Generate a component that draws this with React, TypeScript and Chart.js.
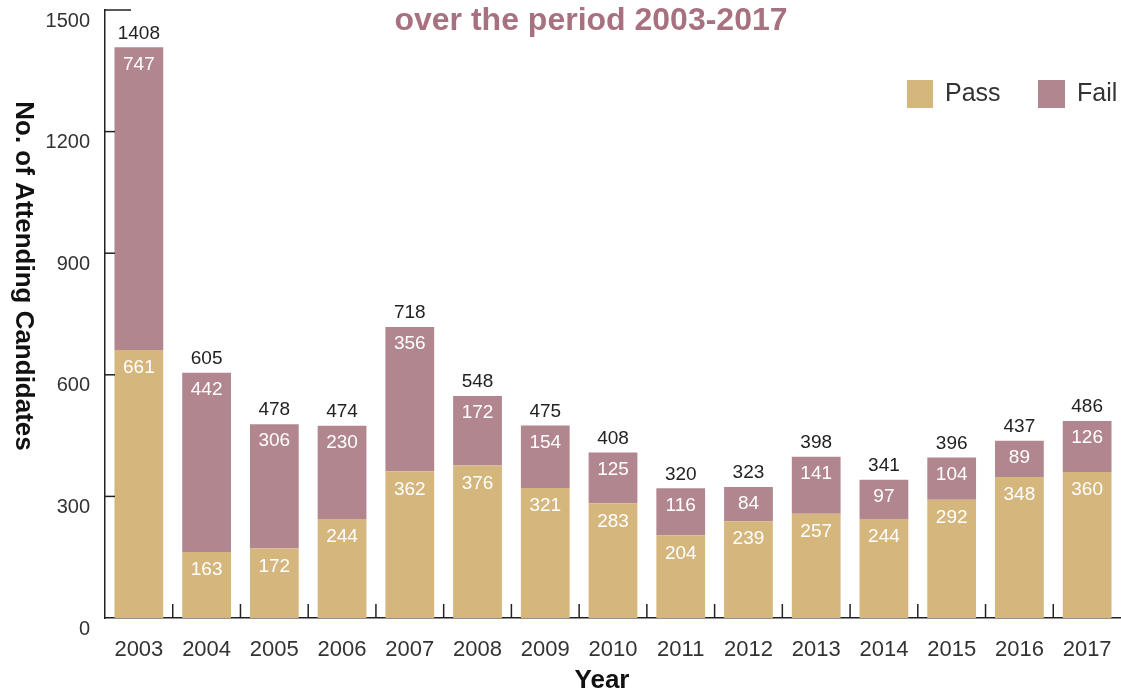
import React, { useEffect, useRef } from "react";
import Chart from "chart.js/auto";

const years = ["2003","2004","2005","2006","2007","2008","2009","2010","2011","2012","2013","2014","2015","2016","2017"];
const passValues = [661,163,172,244,362,376,321,283,204,239,257,244,292,348,360];
const failValues = [747,442,306,230,356,172,154,125,116,84,141,97,104,89,126];
const yTicks = [0,300,600,900,1200,1500];

const PASS_COLOR = "#D5B67C";
const FAIL_COLOR = "#B2868F";
const FONT = "'Liberation Sans', Arial, Helvetica, sans-serif";

const decorPlugin = {
  id: "decor",
  afterDraw(chart: any) {
    const ctx = chart.ctx;
    const area = chart.chartArea;
    const xs = chart.scales.x;
    const ys = chart.scales.y;
    ctx.save();
    // inward tick marks
    ctx.strokeStyle = "#222";
    ctx.lineWidth = 1.5;
    yTicks.forEach((v, i) => {
      const py = ys.getPixelForValue(v);
      const len = i === yTicks.length - 1 ? 26 : 10;
      if (v === 0) return;
      ctx.beginPath();
      ctx.moveTo(area.left, py);
      ctx.lineTo(area.left + len, py);
      ctx.stroke();
    });
    for (let i = 1; i < years.length; i++) {
      const px = (xs.getPixelForTick(i - 1) + xs.getPixelForTick(i)) / 2;
      ctx.beginPath();
      ctx.moveTo(px, area.bottom);
      ctx.lineTo(px, area.bottom - 14);
      ctx.stroke();
    }
    // value labels
    const passMeta = chart.getDatasetMeta(0);
    const failMeta = chart.getDatasetMeta(1);
    ctx.textAlign = "center";
    ctx.textBaseline = "middle";
    ctx.font = `19px ${FONT}`;
    years.forEach((_, i) => {
      const pb = passMeta.data[i];
      const fb = failMeta.data[i];
      ctx.fillStyle = "#ffffff";
      ctx.fillText(String(passValues[i]), pb.x, pb.y + 18);
      ctx.fillText(String(failValues[i]), fb.x, fb.y + 17);
      ctx.fillStyle = "#222";
      ctx.fillText(String(passValues[i] + failValues[i]), fb.x, fb.y - 14);
    });
    // title
    ctx.fillStyle = "#A8717F";
    ctx.font = `bold 32px ${FONT}`;
    ctx.fillText("over the period 2003-2017", 591, 21);
    // legend
    ctx.font = `25px ${FONT}`;
    ctx.textAlign = "left";
    ctx.fillStyle = PASS_COLOR;
    ctx.fillRect(907, 80, 26, 28);
    ctx.fillStyle = FAIL_COLOR;
    ctx.fillRect(1038, 80, 27, 28);
    ctx.fillStyle = "#333";
    ctx.fillText("Pass", 945, 94);
    ctx.fillText("Fail", 1077, 94);
    // axis titles
    ctx.fillStyle = "#111";
    ctx.textAlign = "center";
    ctx.font = `bold 26px ${FONT}`;
    ctx.fillText("Year", 602, 681);
    ctx.translate(23, 276);
    ctx.rotate(Math.PI / 2);
    ctx.font = `bold 26px ${FONT}`;
    ctx.fillText("No. of Attending Candidates", 0, 0);
    ctx.restore();
  },
};

export default function App() {
  const ref = useRef<HTMLCanvasElement | null>(null);
  useEffect(() => {
    document.body.style.margin = "0";
    Chart.defaults.font.family = FONT;
    const chart = new Chart(ref.current as HTMLCanvasElement, {
      type: "bar",
      data: {
        labels: years,
        datasets: [
          { label: "Pass", data: passValues, backgroundColor: PASS_COLOR, barPercentage: 0.72, categoryPercentage: 1 },
          { label: "Fail", data: failValues, backgroundColor: FAIL_COLOR, barPercentage: 0.72, categoryPercentage: 1 },
        ],
      },
      options: {
        animation: false,
        responsive: true,
        maintainAspectRatio: false,
        layout: { padding: { top: 10, right: 0, left: 0, bottom: 0 } },
        plugins: { legend: { display: false }, tooltip: { enabled: false } },
        scales: {
          x: {
            stacked: true,
            grid: { display: false, drawTicks: false },
            border: { display: true, color: "#222", width: 1.5 },
            ticks: { font: { size: 22 }, color: "#333", padding: 19 },
            afterFit(scale: any) {
              scale.height = 72;
              scale.paddingLeft = 0;
              scale.paddingRight = 0;
            },
          },
          y: {
            stacked: true,
            min: 0,
            max: 1500,
            grid: { display: false, drawTicks: false },
            border: { display: true, color: "#222", width: 1.5 },
            ticks: {
              stepSize: 300,
              font: { size: 20 },
              color: "#333",
              padding: 15,
              labelOffset: 11,
              callback: (v: any) => String(v),
            },
            afterFit(scale: any) {
              scale.width = 105;
              scale.paddingTop = 0;
              scale.paddingBottom = 0;
            },
          },
        },
      },
      plugins: [decorPlugin],
    });
    return () => chart.destroy();
  }, []);
  return (
    <div style={{ position: "absolute", left: 0, top: 0, width: 1121, height: 690 }}>
      <canvas ref={ref} />
    </div>
  );
}
